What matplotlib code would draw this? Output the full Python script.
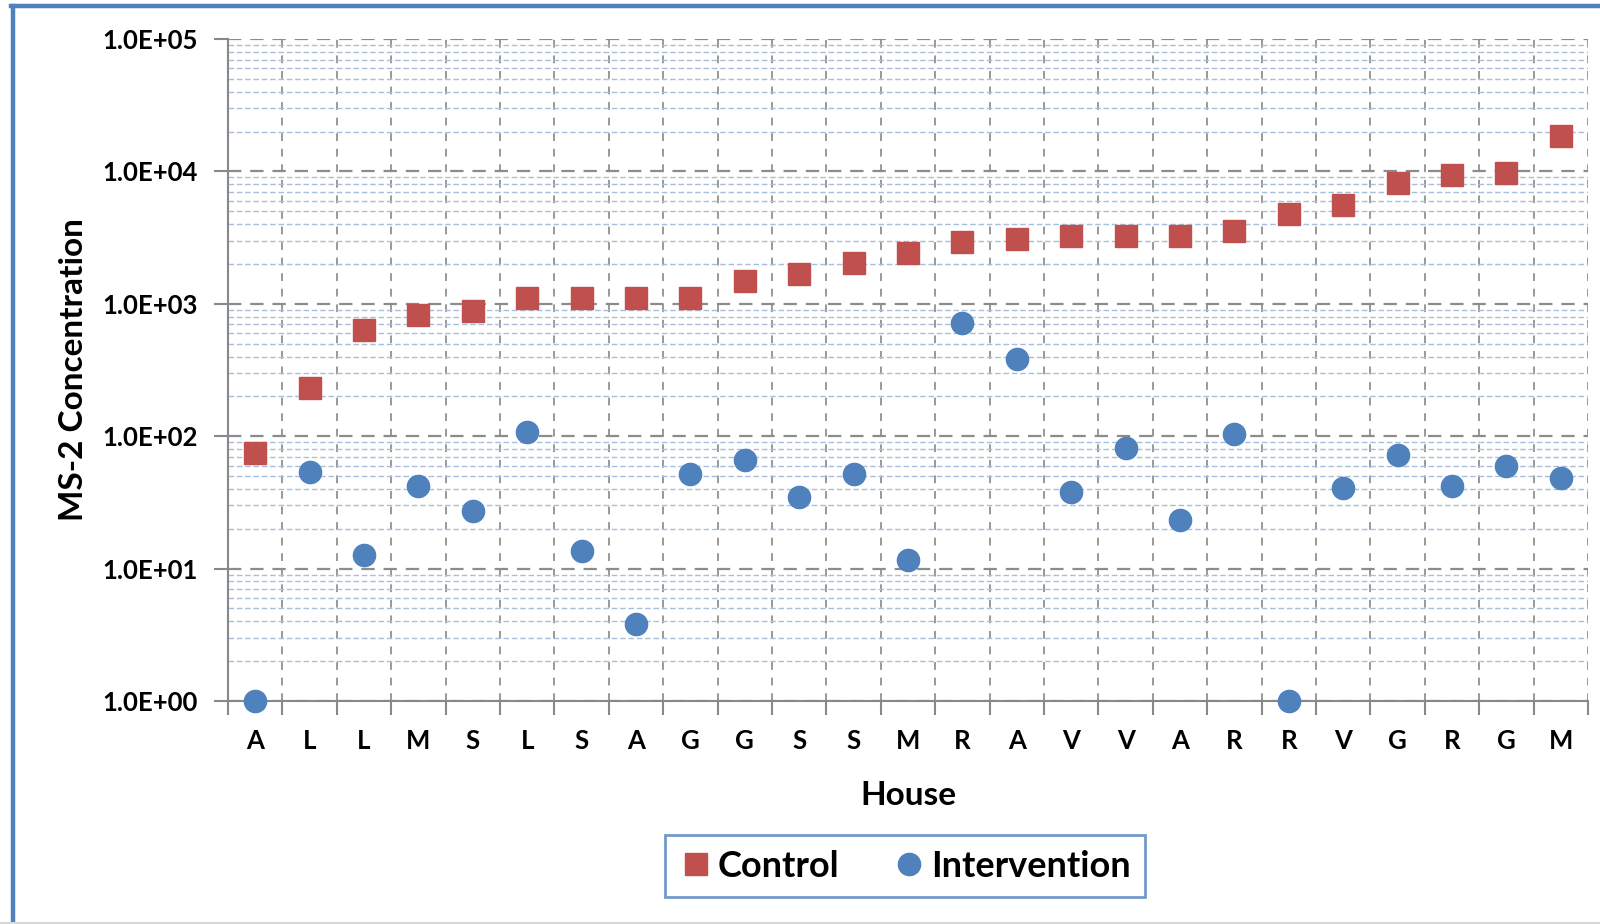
import matplotlib
matplotlib.use("Agg")
import matplotlib.pyplot as plt
from matplotlib.lines import Line2D
from matplotlib.ticker import FixedLocator, LogLocator, NullFormatter, FuncFormatter

houses = ["A", "L", "L", "M", "S", "L", "S", "A", "G", "G", "S", "S", "M",
          "R", "A", "V", "V", "A", "R", "R", "V", "G", "R", "G", "M"]
control = [75, 230, 630, 820, 880, 1100, 1100, 1100, 1100, 1480, 1670, 2040, 2420,
           2950, 3100, 3280, 3280, 3280, 3520, 4750, 5570, 8230, 9330, 9800, 18600]
intervention = [1.0, 54, 12.6, 42, 27.4, 107, 13.7, 3.85, 52, 66.5, 35, 52, 11.7,
                714, 384, 37.8, 82, 23.4, 104, 1.0, 40.5, 72.7, 42, 60, 48]

plt.rcParams['font.family'] = ['Lato', 'DejaVu Sans']
plt.rcParams['font.weight'] = 'bold'

RED = '#C0504D'
BLUE = '#4F81BD'

fig = plt.figure(figsize=(16, 9.24), dpi=100)
ax = fig.add_axes([0.1425, 0.2413, 0.85, 0.7165])

x = list(range(len(houses)))
ax.plot(x, control, linestyle='none', marker='s', markersize=16, color=RED,
        markeredgecolor=RED, label='Control', clip_on=False, zorder=5)
ax.plot(x, intervention, linestyle='none', marker='o', markersize=16, color=BLUE,
        markeredgecolor=BLUE, label='Intervention', clip_on=False, zorder=5)

ax.set_yscale('log')
ax.set_ylim(1, 1e5)
ax.set_xlim(-0.5, len(houses) - 0.5)

# y ticks
ax.yaxis.set_major_locator(FixedLocator([1, 10, 100, 1000, 1e4, 1e5]))
ax.yaxis.set_major_formatter(FuncFormatter(lambda v, p: "%.1E" % v))
ax.yaxis.set_minor_locator(LogLocator(base=10, subs=range(2, 10), numticks=20))
ax.yaxis.set_minor_formatter(NullFormatter())
ax.tick_params(axis='y', which='major', length=10, width=1.5, color='#888888',
               pad=12, labelsize=18.5)
ax.tick_params(axis='y', which='minor', length=0)

# x ticks: boundaries as major, labels on minor
ax.xaxis.set_major_locator(FixedLocator([i - 0.5 for i in range(len(houses) + 1)]))
ax.xaxis.set_major_formatter(NullFormatter())
ax.xaxis.set_minor_locator(FixedLocator(x))
ax.set_xticks(x, houses, minor=True)
ax.tick_params(axis='x', which='major', length=10, width=1.5, color='#888888')
ax.tick_params(axis='x', which='minor', length=0, pad=20, labelsize=18.5)

# grids
ax.grid(True, axis='y', which='major', color='#8c8c8c', linestyle=(0, (6, 4)), linewidth=1.6)
ax.grid(True, axis='y', which='minor', color='#a8bedb', linestyle=(0, (4, 2)), linewidth=1.0)
ax.grid(True, axis='x', which='major', color='#9a9a92', linestyle=(0, (4, 4)), linewidth=1.4)
ax.set_axisbelow(True)

for s in ['top', 'right']:
    ax.spines[s].set_visible(False)
for s in ['left', 'bottom']:
    ax.spines[s].set_color('#888888')
    ax.spines[s].set_linewidth(1.5)

ax.set_xlabel('House', fontsize=24, fontweight='bold', labelpad=20)
ax.set_ylabel('MS-2 Concentration', fontsize=24, fontweight='bold', labelpad=10)

leg = fig.legend(loc='center', bbox_to_anchor=(0.5656, 0.0625), ncol=2,
                 frameon=True, fancybox=False, handletextpad=0.15,
                 columnspacing=1.5, borderpad=0.4, borderaxespad=0, handlelength=0.9,
                 prop={'weight': 'bold', 'size': 26})
leg.get_frame().set_edgecolor(BLUE)
leg.get_frame().set_linewidth(2.0)

# outer frame
W, H = 1600, 924
fig.add_artist(Line2D([12.5 / W, 12.5 / W], [0, 1 - 6 / H], color=BLUE, linewidth=3.2,
                      transform=fig.transFigure))
fig.add_artist(Line2D([11 / W, 1], [1 - 6 / H, 1 - 6 / H], color=BLUE, linewidth=3.2,
                      transform=fig.transFigure))
fig.add_artist(Line2D([0, 1], [1.5 / H, 1.5 / H], color='#d8d8d8', linewidth=1.5,
                      transform=fig.transFigure))

fig.savefig('out.png', dpi=100)
